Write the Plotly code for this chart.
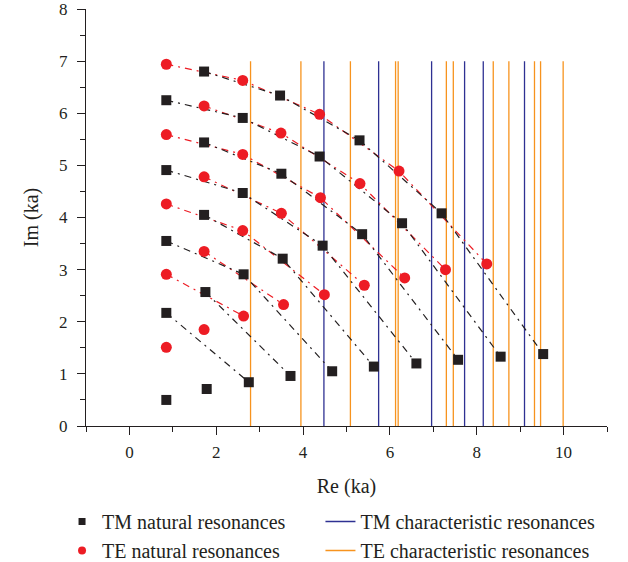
import plotly.graph_objects as go

# ---- data ----
# natural resonances, grouped by diagonal chain (chain k has 11-k points)
TE_X = [[0.85, 2.61, 4.38, 6.21, 8.23],
        [1.72, 3.49, 5.31, 7.28],
        [0.85, 2.61, 4.40, 6.34],
        [1.72, 3.50, 5.41],
        [0.85, 2.61, 4.49],
        [1.72, 3.55],
        [0.85, 2.63],
        [1.72],
        [0.85],
        []]
TE_Y = [[6.94, 6.63, 5.98, 4.89, 3.11],
        [6.14, 5.62, 4.65, 3.00],
        [5.59, 5.21, 4.38, 2.84],
        [4.78, 4.08, 2.70],
        [4.26, 3.75, 2.52],
        [3.35, 2.33],
        [2.91, 2.11],
        [1.85],
        [1.51],
        []]
TM_X = [[1.72, 3.47, 5.30, 7.19, 9.53],
        [0.85, 2.61, 4.38, 6.28, 8.55],
        [1.72, 3.50, 5.36, 7.57],
        [0.85, 2.61, 4.45, 6.61],
        [1.72, 3.53, 5.63],
        [0.85, 2.63, 4.67],
        [1.75, 3.71],
        [0.85, 2.75],
        [1.78],
        [0.85]]
TM_Y = [[6.80, 6.34, 5.48, 4.08, 1.38],
        [6.25, 5.91, 5.17, 3.89, 1.33],
        [5.44, 4.84, 3.68, 1.27],
        [4.91, 4.47, 3.46, 1.20],
        [4.05, 3.21, 1.14],
        [3.55, 2.91, 1.05],
        [2.57, 0.96],
        [2.17, 0.84],
        [0.71],
        [0.50]]

# characteristic resonances (Re ka)
TM_CHAR = [4.48, 5.74, 6.96, 7.72, 8.15, 9.10]
TE_CHAR = [2.79, 3.95, 5.09, 6.13, 6.19, 7.30, 7.46, 8.38, 8.74, 9.33, 9.47, 9.99]
CHAR_TOP = 7.0

X_TICKS = [0, 2, 4, 6, 8, 10]
Y_TICKS = [0, 1, 2, 3, 4, 5, 6, 7, 8]

BLACK = "#231f20"
RED = "#ed1c24"
NAVY = "#2e3192"
ORANGE = "#f7931e"
FONT = "Liberation Serif"
DASH = "7px,5px,2px,5px"

fig = go.Figure()


def vlines(xs):
    vx, vy = [], []
    for v in xs:
        vx += [v, v, None]
        vy += [0, CHAR_TOP, None]
    return vx, vy


# characteristic resonances (vertical lines)
vx, vy = vlines(TM_CHAR)
fig.add_trace(go.Scatter(x=vx, y=vy, mode="lines", line=dict(color=NAVY, width=1.3),
                         showlegend=False, hoverinfo="skip"))
vx, vy = vlines(TE_CHAR)
fig.add_trace(go.Scatter(x=vx, y=vy, mode="lines", line=dict(color=ORANGE, width=1.3),
                         showlegend=False, hoverinfo="skip"))

# trend lines along each chain
for xs, ys in zip(TE_X, TE_Y):
    if len(xs) > 1:
        fig.add_trace(go.Scatter(x=xs, y=ys, mode="lines",
                                 line=dict(color=RED, width=1.2, dash=DASH),
                                 showlegend=False, hoverinfo="skip"))
for xs, ys in zip(TM_X, TM_Y):
    if len(xs) > 1:
        fig.add_trace(go.Scatter(x=xs, y=ys, mode="lines",
                                 line=dict(color=BLACK, width=1.2, dash=DASH),
                                 showlegend=False, hoverinfo="skip"))

# markers
tm_x = [v for c in TM_X for v in c]
tm_y = [v for c in TM_Y for v in c]
te_x = [v for c in TE_X for v in c]
te_y = [v for c in TE_Y for v in c]
fig.add_trace(go.Scatter(x=tm_x, y=tm_y, mode="markers",
                         marker=dict(symbol="square", size=10, color=BLACK),
                         showlegend=False))
fig.add_trace(go.Scatter(x=te_x, y=te_y, mode="markers",
                         marker=dict(symbol="circle", size=11, color=RED),
                         showlegend=False))

# legend entries
fig.add_trace(go.Scatter(x=[None], y=[None], mode="markers", name="TM natural resonances",
                         marker=dict(symbol="square", size=7, color=BLACK), legend="legend"))
fig.add_trace(go.Scatter(x=[None], y=[None], mode="markers", name="TE natural resonances",
                         marker=dict(symbol="circle", size=8, color=RED), legend="legend"))
fig.add_trace(go.Scatter(x=[None], y=[None], mode="lines", name="TM characteristic resonances",
                         line=dict(color=NAVY, width=1.3), legend="legend2"))
fig.add_trace(go.Scatter(x=[None], y=[None], mode="lines", name="TE characteristic resonances",
                         line=dict(color=ORANGE, width=1.3), legend="legend2"))

axis_common = dict(showgrid=False, zeroline=False, showline=True, linecolor=BLACK,
                   linewidth=1.3, ticks="outside", ticklen=8, tickwidth=1.3,
                   tickcolor=BLACK, ticklabeloverflow="allow", automargin=False,
                   tickfont=dict(family=FONT, size=17, color=BLACK))

legend_common = dict(orientation="v", xanchor="left", yref="container",
                     y=0.1068, yanchor="top",
                     font=dict(family=FONT, size=20, color=BLACK),
                     bgcolor="rgba(0,0,0,0)", tracegroupgap=0, itemwidth=30)

fig.update_layout(
    width=628, height=562,
    margin=dict(l=86, r=21, t=9, b=136),
    paper_bgcolor="white", plot_bgcolor="white",
    font=dict(family=FONT, color=BLACK),
    xaxis=dict(range=[-1, 11], tickvals=X_TICKS, ticklabelstandoff=2,
               minor=dict(dtick=1, tick0=-1, ticks="outside", ticklen=5, tickcolor=BLACK, tickwidth=1.3),
               title=dict(text="Re (ka)", font=dict(family=FONT, size=20, color=BLACK), standoff=18),
               **axis_common),
    yaxis=dict(range=[0, 8], tickvals=Y_TICKS, ticklabelstandoff=6,
               minor=dict(dtick=0.5, tick0=0, ticks="outside", ticklen=5, tickcolor=BLACK, tickwidth=1.3),
               title=dict(text="Im (ka)", font=dict(family=FONT, size=20, color=BLACK), standoff=14),
               **axis_common),
    legend=dict(x=-0.046, **legend_common),
    legend2=dict(x=0.45, **legend_common),
)

fig.write_html("out.html")
